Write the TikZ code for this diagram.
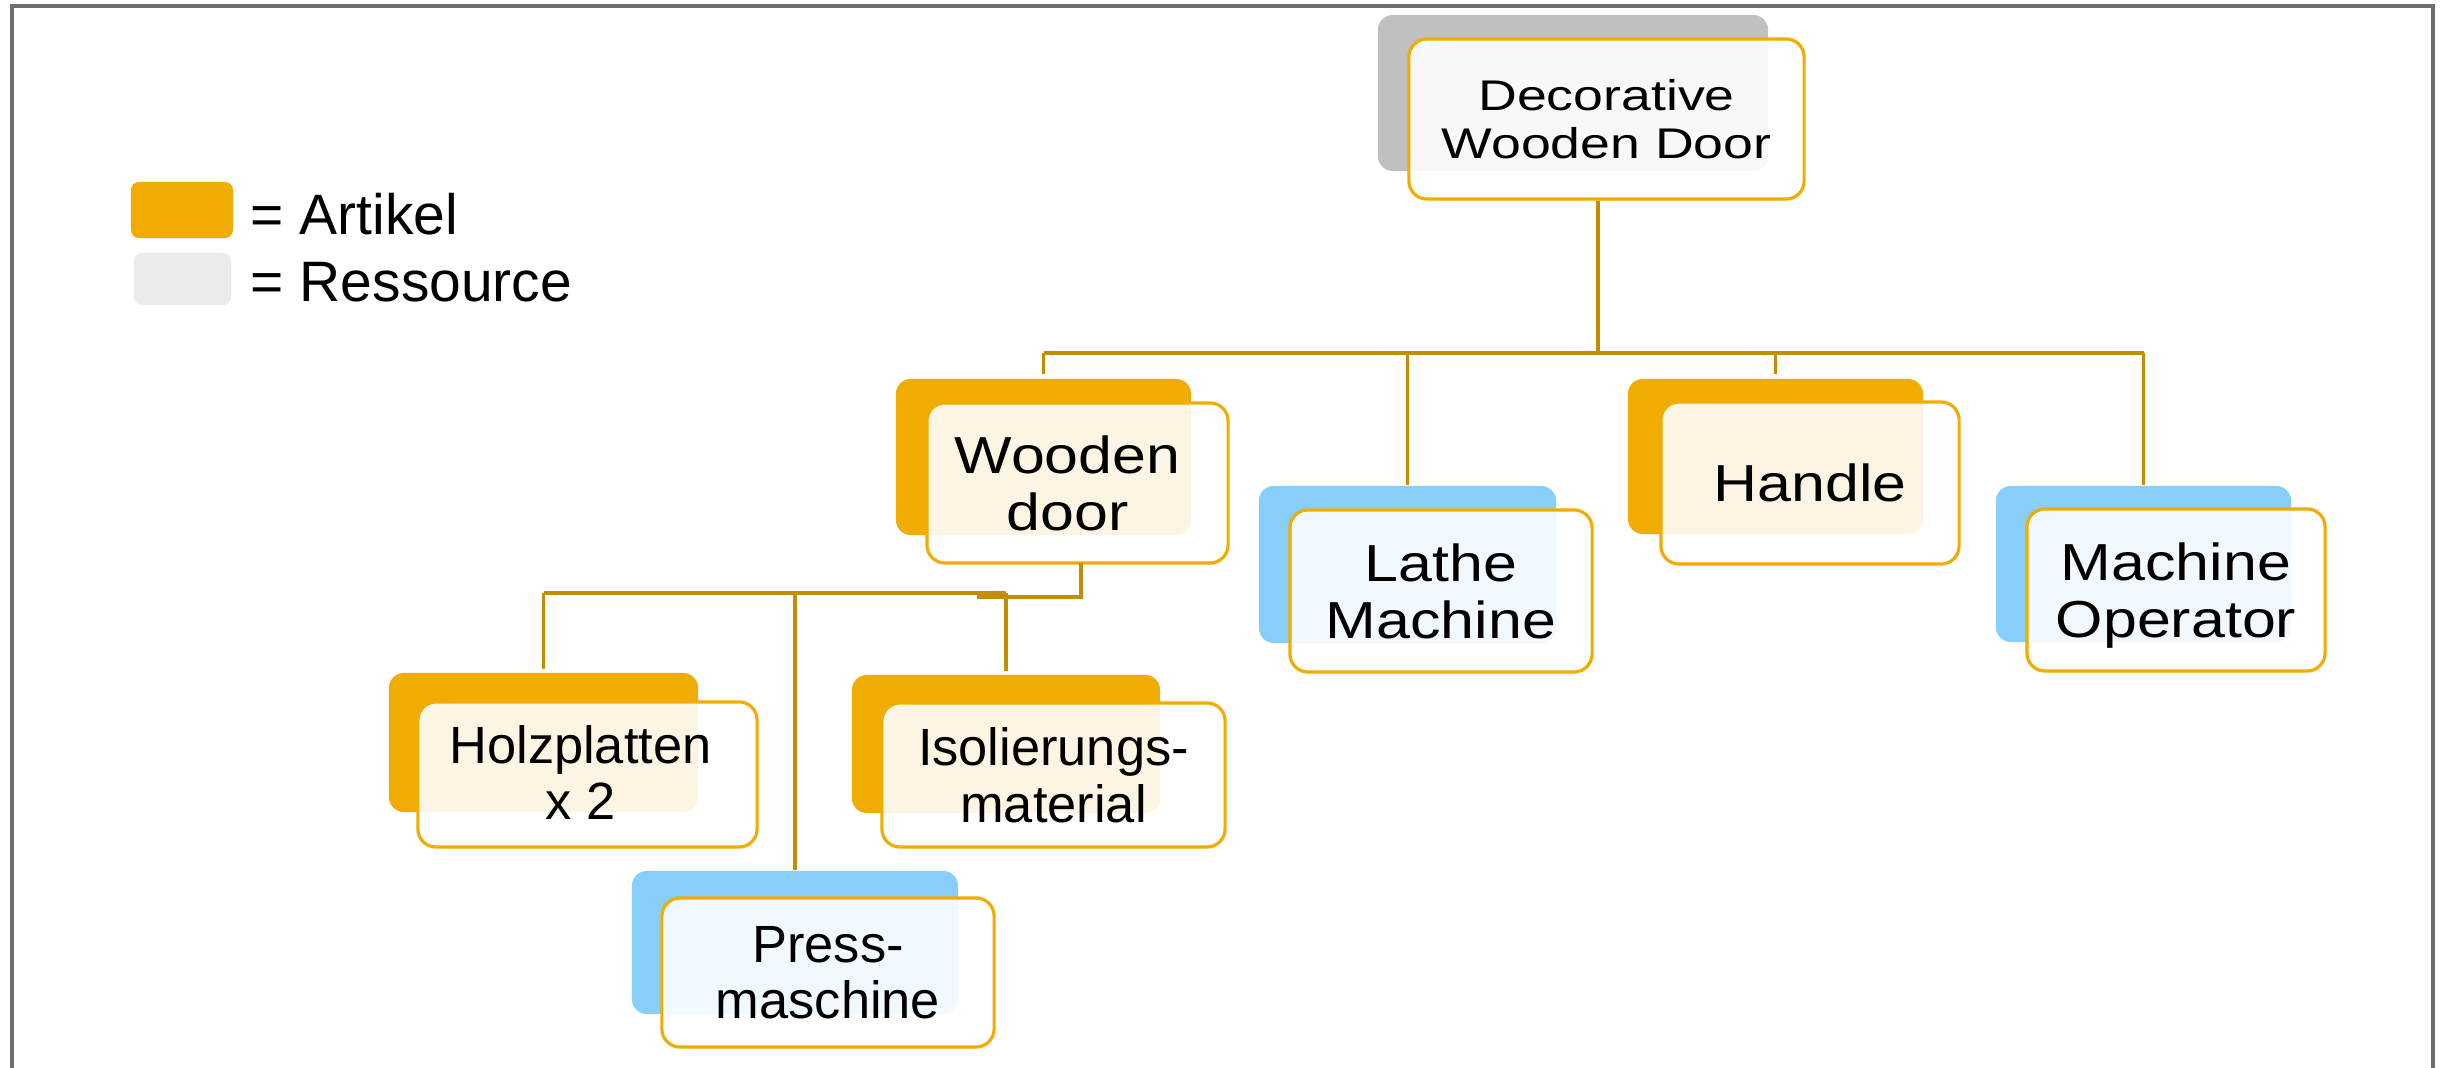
\documentclass[tikz,border=0pt]{standalone}
\usepackage{fontspec}
\setmainfont{Liberation Sans}
\newfontfamily\midfont[FakeStretch=1.17]{Liberation Sans}
\newfontfamily\topfont[FakeStretch=1.25]{Liberation Sans}
\usetikzlibrary{calc}
\definecolor{artO}{HTML}{F0AC00}
\definecolor{resB}{HTML}{87CEFA}
\definecolor{topG}{HTML}{C0C0C0}
\definecolor{legG}{HTML}{EBEBEB}
\definecolor{conn}{HTML}{C48C00}
\definecolor{frameG}{HTML}{6E6E6E}
\begin{document}
\begin{tikzpicture}[x=0.01cm,y=-0.01cm,
  backbox/.style={rounded corners=0.15cm, inner sep=0pt, draw=none},
  artback/.style={backbox, fill=artO},
  resback/.style={backbox, fill=resB},
  topback/.style={backbox, fill=topG},
  frontbox/.style={rounded corners=0.18cm, inner sep=0pt, draw=artO, line width=0.9pt,
    fill=white, fill opacity=0.89, text opacity=1, align=center, text depth=0pt},
  boxlabel/.style={inner sep=0pt, align=center, text depth=0pt},
  midtext/.style={font=\midfont\fontsize{14.8}{16.2}\selectfont},
  lowtext/.style={font=\fontsize{14.9}{16}\selectfont},
  toptext/.style={font=\topfont\fontsize{12.2}{13.9}\selectfont},
  link/.style={draw=conn, line width=1pt},
  legtext/.style={anchor=base west, inner sep=0pt, font=\fontsize{16.2}{19}\selectfont}
]
\useasboundingbox (0,0) rectangle (2447,1068);
\fill[white] (0,0) rectangle (2447,1068);
\draw[frameG, line width=1pt] (12,1090) -- (12,6) -- (2433,6) -- (2433,1090);

% legend
\node[fill=artO, rounded corners=0.08cm, inner sep=0pt, minimum width=1.02cm, minimum height=0.56cm] (legA) at (182,210) {};
\node[fill=legG, rounded corners=0.08cm, inner sep=0pt, minimum width=0.97cm, minimum height=0.52cm] (legR) at (182.5,279) {};
\node[legtext] (legAt) at (250,235) {= Artikel};
\node[legtext] (legRt) at (250,302) {= Ressource};

% top node
\node[topback, minimum width=3.90cm, minimum height=1.56cm] (topB) at (1573,93) {};
\node[frontbox, toptext, minimum width=3.95cm, minimum height=1.60cm] (topF) at (1606.5,119) {Decorative\\Wooden Door};

% second row
\node[artback, minimum width=2.95cm, minimum height=1.56cm] (wdB) at (1043.5,457) {};
\node[frontbox, minimum width=3.01cm, minimum height=1.60cm] (wdF) at (1077.5,483) {};
\node[boxlabel, midtext] (wdT) at ($(wdF.center)+(-10,0)$) {Wooden\\door};

\node[resback, minimum width=2.97cm, minimum height=1.57cm] (ltB) at (1407.5,564.5) {};
\node[frontbox, midtext, minimum width=3.02cm, minimum height=1.62cm] (ltF) at (1441,591) {Lathe\\Machine};

\node[artback, minimum width=2.95cm, minimum height=1.55cm] (hdB) at (1775.5,456.5) {};
\node[frontbox, midtext, minimum width=2.98cm, minimum height=1.62cm] (hdF) at (1810,483) {Handle};

\node[resback, minimum width=2.95cm, minimum height=1.56cm] (opB) at (2143.5,564) {};
\node[frontbox, midtext, minimum width=2.98cm, minimum height=1.62cm] (opF) at (2176,590) {Machine\\Operator};

% third row
\node[artback, minimum width=3.09cm, minimum height=1.39cm] (hzB) at (543.5,742.5) {};
\node[frontbox, minimum width=3.39cm, minimum height=1.45cm] (hzF) at (587.5,774.5) {};
\node[boxlabel, lowtext] (hzT) at ($(hzF.center)+(-7,-2)$) {Holzplatten\\x 2};

\node[artback, minimum width=3.08cm, minimum height=1.38cm] (isB) at (1006,744) {};
\node[frontbox, lowtext, minimum width=3.43cm, minimum height=1.44cm] (isF) at (1053.5,775) {Isolierungs-\\material};

\node[resback, minimum width=3.26cm, minimum height=1.43cm] (prB) at (795,942.5) {};
\node[frontbox, lowtext, minimum width=3.32cm, minimum height=1.49cm] (prF) at (828,972.5) {Press-\\maschine};

% connectors, top level
\coordinate (bus1) at (1598,353);
\draw[link] (topF.south -| bus1) -- (bus1);
\draw[link] (wdB.north |- bus1) -- (opB.north |- bus1);
\draw[link] (wdB.north |- bus1) -- ($(wdB.north)+(0,-4)$);
\draw[link] (ltB.north |- bus1) -- (ltB.north);
\draw[link] (hdB.north |- bus1) -- ($(hdB.north)+(0,-4)$);
\draw[link] (opB.north |- bus1) -- (opB.north);

% connectors, wooden door
\coordinate (bus2) at (543,593);
\coordinate (bus2b) at (977,597);
\coordinate (wdOut) at (1081,563);
\draw[link] (wdOut) |- (bus2b);
\draw[link] (hzB.north |- bus2) -- (isB.north |- bus2);
\draw[link] (hzB.north |- bus2) -- ($(hzB.north)+(0,-3)$);
\draw[link] (prB.north |- bus2) -- (prB.north);
\draw[link] (isB.north |- bus2) -- ($(isB.north)+(0,-3)$);
\end{tikzpicture}
\end{document}
